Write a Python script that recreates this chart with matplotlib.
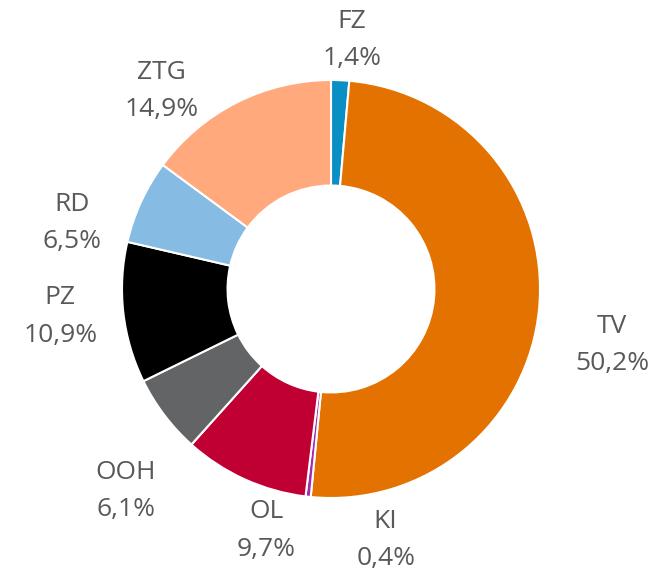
import numpy as np
import matplotlib.pyplot as plt

labels = ["FZ", "TV", "KI", "OL", "OOH", "PZ", "RD", "ZTG"]
shares = [1.4, 50.2, 0.4, 9.7, 6.1, 10.9, 6.5, 14.9]
colors = ["#0a8fc4", "#e37200", "#a12ab4", "#c00032", "#636466",
          "#000000", "#86bbe3", "#ffa97d"]

# label placement: distance from centre (in radii) and angle shift (deg)
lab_dist = [1.196, 1.371, 1.228, 1.196, 1.377, 1.302, 1.28, 1.249]
lab_shift = [-2.3, -5.9, 18.6, 9.4, 7.4, -0.8, 10.5, 13.8]

plt.rcParams["font.family"] = ["Open Sans", "DejaVu Sans"]

fig = plt.figure(figsize=(6.58, 5.86), dpi=100)
ax = fig.add_axes([0, 0, 1, 1])

wedges, _ = ax.pie(shares, colors=colors, startangle=90, counterclock=False,
                   radius=1.0,
                   wedgeprops=dict(width=0.505, edgecolor="white", linewidth=1.5))

for w, lab, val, d, sh in zip(wedges, labels, shares, lab_dist, lab_shift):
    ang = np.deg2rad((w.theta1 + w.theta2) / 2 + sh)
    x, y = d * np.cos(ang), d * np.sin(ang)
    ax.text(x, y, f"{lab}\n{str(val).replace('.', ',')}%", ha="center",
            va="center", fontsize=19, color="#595959", linespacing=1.65)

ax.set_xlim(-331 / 209, (658 - 331) / 209)
ax.set_ylim(-297 / 209, (586 - 297) / 209)
ax.set_aspect("auto")
ax.axis("off")

fig.savefig("out.png", dpi=100)
